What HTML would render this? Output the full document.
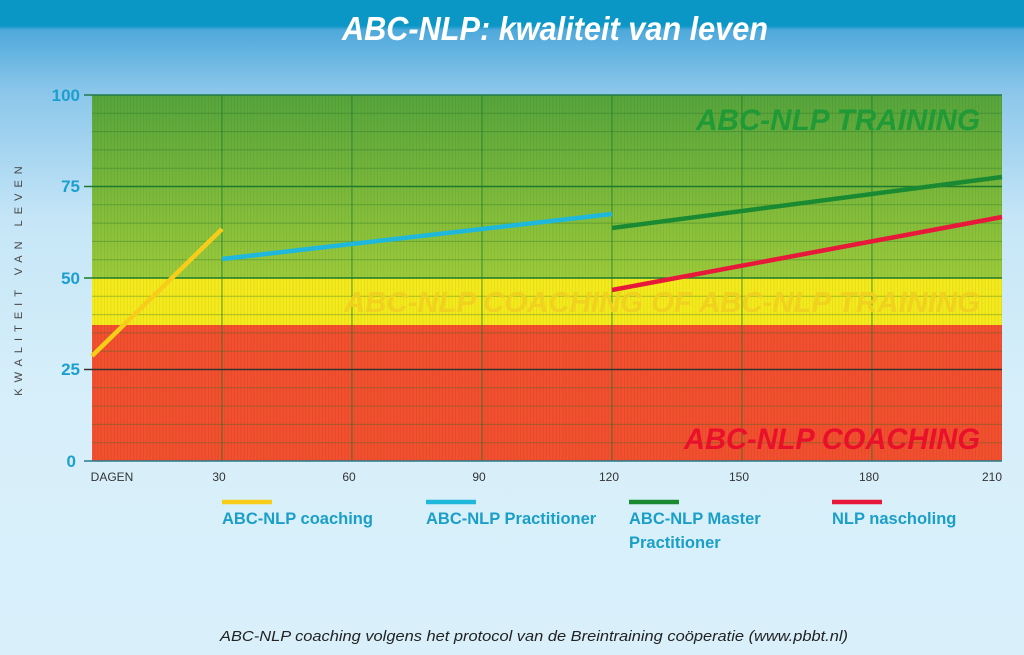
<!DOCTYPE html>
<html><head><meta charset="utf-8"><style>
html,body{margin:0;padding:0}
body{width:1024px;height:655px;overflow:hidden;background:linear-gradient(#0a97c6 0,#0a97c6 26px,#4ea9db 30px,#8ac6ea 90px,#c6e6f7 220px,#d7effa 400px,#d9f0fb 655px);font-family:"Liberation Sans",sans-serif;position:relative}
</style></head><body>
<svg width="1024" height="655" style="position:absolute;left:0;top:0" xmlns="http://www.w3.org/2000/svg">
<defs>
<linearGradient id="g" x1="0" y1="0" x2="0" y2="1"><stop offset="0" stop-color="#56a53c"/><stop offset="1" stop-color="#9ccb3a"/></linearGradient>
<pattern id="vs" width="3.25" height="10" patternUnits="userSpaceOnUse"><rect width="0.8" height="10" fill="rgba(0,0,0,0.07)"/></pattern>
</defs>
<text x="342" y="40" textLength="426" lengthAdjust="spacingAndGlyphs" font-size="33" font-weight="bold" font-style="italic" fill="#fff">ABC-NLP: kwaliteit van leven</text>
<rect x="92" y="95" width="910" height="183" fill="url(#g)"/>
<rect x="92" y="278" width="910" height="47" fill="#f4ea1c"/>
<rect x="92" y="325" width="910" height="136" fill="#f2502e"/>
<rect x="92" y="95" width="910" height="366" fill="url(#vs)"/>
<g stroke="rgba(30,110,40,0.35)" stroke-width="1">
<line x1="92" x2="1002" y1="113.3" y2="113.3"/><line x1="92" x2="1002" y1="131.6" y2="131.6"/><line x1="92" x2="1002" y1="149.9" y2="149.9"/><line x1="92" x2="1002" y1="168.2" y2="168.2"/>
<line x1="92" x2="1002" y1="204.8" y2="204.8"/><line x1="92" x2="1002" y1="223.1" y2="223.1"/><line x1="92" x2="1002" y1="241.4" y2="241.4"/><line x1="92" x2="1002" y1="259.7" y2="259.7"/>
<line x1="92" x2="1002" y1="296.3" y2="296.3"/><line x1="92" x2="1002" y1="314.6" y2="314.6"/><line x1="92" x2="1002" y1="332.9" y2="332.9"/><line x1="92" x2="1002" y1="351.2" y2="351.2"/>
<line x1="92" x2="1002" y1="387.8" y2="387.8"/><line x1="92" x2="1002" y1="406.1" y2="406.1"/><line x1="92" x2="1002" y1="424.4" y2="424.4"/><line x1="92" x2="1002" y1="442.7" y2="442.7"/>
</g>
<g stroke="rgba(20,120,40,0.7)" stroke-width="1">
<line x1="222" x2="222" y1="95" y2="461"/><line x1="352" x2="352" y1="95" y2="461"/><line x1="482" x2="482" y1="95" y2="461"/><line x1="612" x2="612" y1="95" y2="461"/><line x1="742" x2="742" y1="95" y2="461"/><line x1="872" x2="872" y1="95" y2="461"/>
</g>
<g stroke-width="1.5">
<line x1="84" x2="1002" y1="95" y2="95" stroke="#1f7a4a"/>
<line x1="84" x2="1002" y1="186.5" y2="186.5" stroke="#1b7a2e"/>
<line x1="84" x2="1002" y1="278" y2="278" stroke="#1b7a2e"/>
<line x1="84" x2="1002" y1="369.5" y2="369.5" stroke="#333"/>
<line x1="84" x2="1002" y1="461" y2="461" stroke="#2a7a8a"/>
</g>
<g font-size="17" font-weight="bold" fill="#1c9fcf" text-anchor="end">
<text x="80" y="101">100</text><text x="80" y="192">75</text><text x="80" y="284">50</text><text x="80" y="375">25</text><text x="76" y="467">0</text>
</g>
<text transform="translate(22,278) rotate(-90)" text-anchor="middle" font-size="11" fill="#444" letter-spacing="6">KWALITEIT VAN LEVEN</text>
<g font-size="12" fill="#333" text-anchor="middle">
<text x="112" y="481">DAGEN</text><text x="219" y="481">30</text><text x="349" y="481">60</text><text x="479" y="481">90</text><text x="609" y="481">120</text><text x="739" y="481">150</text><text x="869" y="481">180</text><text x="992" y="481">210</text>
</g>
<g font-weight="bold" font-style="italic">
<text x="696" y="130" textLength="284" lengthAdjust="spacingAndGlyphs" font-size="30" fill="#1f9a36">ABC-NLP TRAINING</text>
<text x="344" y="312" textLength="636" lengthAdjust="spacingAndGlyphs" font-size="29" fill="#f0d020" opacity="0.9">ABC-NLP COACHING OF ABC-NLP TRAINING</text>
<text x="684" y="449" textLength="296" lengthAdjust="spacingAndGlyphs" font-size="30" fill="#e8102a">ABC-NLP COACHING</text>
</g>
<g stroke-width="4.5" stroke-linecap="butt">
<line x1="92" y1="356" x2="222" y2="229" stroke="#f7cd1a"/>
<line x1="222" y1="259" x2="612" y2="214" stroke="#1fb8dc"/>
<line x1="612" y1="228" x2="1002" y2="177" stroke="#1a8a32"/>
<line x1="612" y1="290" x2="1002" y2="217" stroke="#e8183a"/>
<line x1="222" y1="502" x2="272" y2="502" stroke="#f7cd1a"/>
<line x1="426" y1="502" x2="476" y2="502" stroke="#1fb8dc"/>
<line x1="629" y1="502" x2="679" y2="502" stroke="#1a8a32"/>
<line x1="832" y1="502" x2="882" y2="502" stroke="#e8183a"/>
</g>
<g font-size="16.5" font-weight="bold" fill="#1b9fc8">
<text x="222" y="524">ABC-NLP coaching</text>
<text x="426" y="524">ABC-NLP Practitioner</text>
<text x="629" y="524">ABC-NLP Master</text><text x="629" y="548">Practitioner</text>
<text x="832" y="524">NLP nascholing</text>
</g>
<text x="220" y="641" textLength="628" lengthAdjust="spacingAndGlyphs" font-size="15" font-style="italic" fill="#222">ABC-NLP coaching volgens het protocol van de Breintraining coöperatie (www.pbbt.nl)</text>
</svg>
</body></html>
